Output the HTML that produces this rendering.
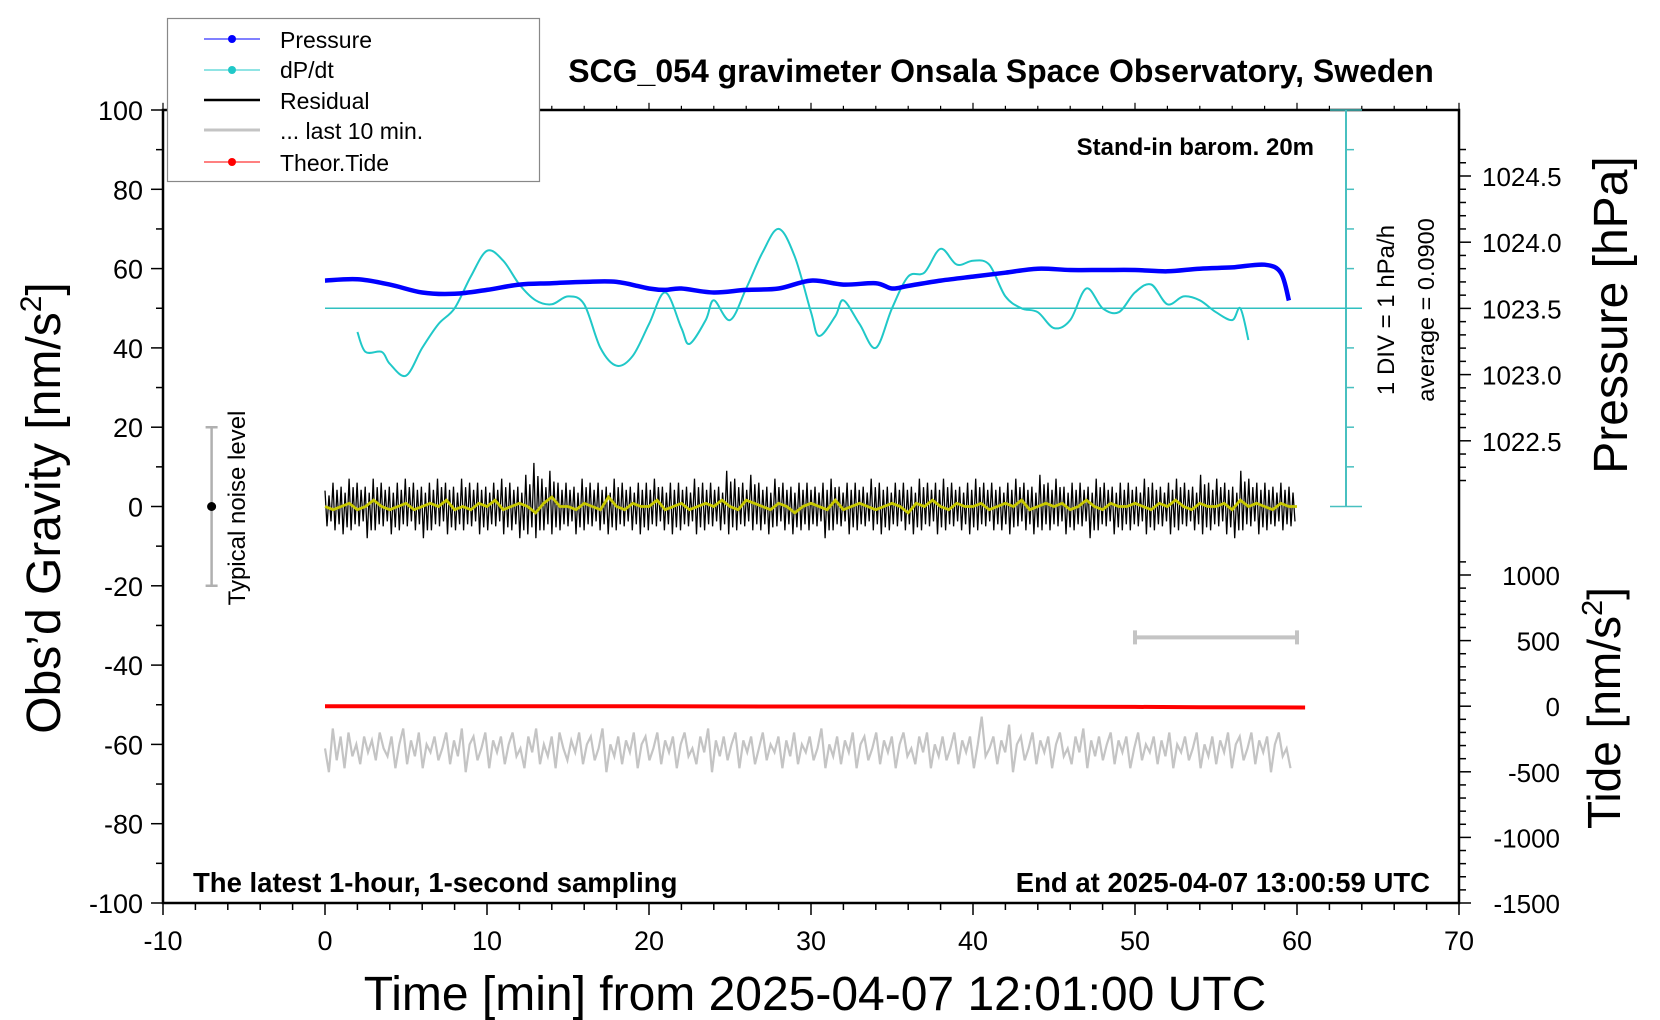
<!DOCTYPE html>
<html><head><meta charset="utf-8"><style>
html,body{margin:0;padding:0;background:#fff}
svg{display:block;font-family:"Liberation Sans",Arial,sans-serif}
</style></head><body>
<svg id="chart" width="1660" height="1020" viewBox="0 0 1660 1020" xmlns="http://www.w3.org/2000/svg">
<g id="axes"></g>
<g id="series"></g>
<g id="labels"></g>
</svg>
<script>
// ---- data ----
const xTicks = [-10,0,10,20,30,40,50,60,70];
const yTicks = [100,80,60,40,20,0,-20,-40,-60,-80,-100];
const pressureTicks = [1022.5,1023.0,1023.5,1024.0,1024.5];
const tideTicks = [1000,500,0,-500,-1000,-1500];
const pressureT = [0,2,4,6,8,10,12,14,16,18,20,21,22,24,26,28,30,32,34,35,36,38,40,42,44,46,48,50,52,54,56,58,59,59.5];
const pressureV = [1023.71,1023.72,1023.68,1023.62,1023.61,1023.64,1023.68,1023.69,1023.70,1023.70,1023.65,1023.64,1023.65,1023.62,1023.64,1023.65,1023.71,1023.68,1023.69,1023.65,1023.67,1023.71,1023.74,1023.77,1023.80,1023.79,1023.79,1023.79,1023.78,1023.80,1023.81,1023.83,1023.77,1023.56];
const dpdtT = [2,2.5,3.5,4,5,6,7,8,9,10,11,12,13,14,15,16,17,18,19,20,21,22,22.5,23.5,24,25,26,27,28,29,30,30.5,31.5,32,33,34,35,36,37,38,39,40,41,42,43,44,45,46,47,48,49,50,51,52,53,54,55,56,56.5,57];
const dpdtV = [44,39,39,36,33,40,46,50,58,64.5,62,56,52,51,53,51,40,35.5,38,46,54,45,41,47,52,47,55,64,70,63,49,43,48,52,46,40,50,58,59,65,61,62,61,53,50,49,45,47,55,50,49,54,56,51,53,52,49,47,50,42];
const residualHi = [4,6,5,7,6,5,7,6,5,6,7,6,5,6,7,6,5,7,6,6,5,6,7,6,5,8,11,7,9,6,6,5,7,6,6,5,7,6,5,6,6,7,5,6,6,5,7,6,6,5,9,7,6,8,6,5,7,6,5,6,6,5,6,7,5,6,6,5,7,6,5,6,6,5,7,6,6,7,6,5,6,7,6,6,5,6,7,6,5,8,6,7,5,6,6,5,7,6,5,6,6,5,7,6,5,6,7,6,5,8,6,7,6,5,9,7,6,6,5,6,5];
const residualLo = [-5,-6,-7,-6,-5,-8,-6,-5,-7,-6,-5,-6,-8,-6,-5,-7,-6,-6,-5,-7,-6,-5,-7,-6,-8,-7,-8,-6,-7,-6,-5,-7,-6,-5,-6,-7,-6,-5,-6,-7,-6,-5,-6,-7,-6,-5,-7,-6,-5,-6,-7,-6,-5,-6,-6,-7,-5,-6,-7,-6,-6,-5,-8,-6,-5,-7,-6,-5,-6,-7,-6,-5,-6,-7,-6,-5,-7,-6,-5,-6,-7,-6,-5,-6,-6,-7,-5,-6,-7,-6,-6,-5,-7,-6,-5,-8,-6,-5,-7,-6,-6,-5,-7,-6,-5,-7,-6,-5,-6,-7,-6,-5,-7,-8,-6,-5,-7,-6,-5,-6,-5];
const smoothV = [0,-1,0,1,-1,0,2,0,-1,0,1,-1,0,1,0,2,-1,0,-1,1,0,2,-1,0,1,0,-2,1,3,0,0,-1,1,0,-1,3,0,-1,1,0,0,2,-1,0,1,-1,0,1,0,2,0,-1,2,1,0,-1,1,0,-2,0,1,0,-1,2,-1,0,1,0,-1,0,1,0,-2,1,0,2,0,-1,1,0,0,1,-1,0,1,0,2,-1,0,1,0,1,-1,0,2,0,-1,1,0,0,1,0,-1,1,0,2,0,-1,1,0,0,1,-1,2,0,1,0,-1,1,0,0];
const grayV = [-61,-67,-56,-64,-58,-66,-57,-63,-60,-65,-58,-62,-59,-64,-57,-61,-63,-58,-66,-60,-56,-65,-59,-63,-57,-66,-60,-62,-58,-64,-61,-57,-65,-59,-63,-56,-67,-60,-58,-64,-61,-57,-66,-59,-62,-58,-65,-60,-57,-63,-61,-66,-58,-62,-56,-65,-60,-63,-58,-66,-57,-61,-64,-59,-62,-57,-65,-60,-58,-64,-61,-56,-67,-60,-63,-58,-65,-59,-62,-57,-66,-60,-58,-64,-61,-57,-65,-59,-62,-58,-66,-60,-57,-63,-61,-65,-58,-62,-56,-67,-59,-63,-58,-64,-60,-57,-66,-59,-62,-58,-65,-61,-57,-64,-60,-62,-58,-66,-59,-63,-57,-65,-60,-62,-58,-64,-61,-56,-66,-60,-63,-58,-65,-59,-62,-57,-66,-60,-58,-64,-61,-57,-65,-59,-62,-58,-66,-60,-57,-63,-61,-65,-58,-62,-57,-66,-60,-63,-58,-64,-61,-57,-65,-59,-62,-58,-66,-60,-53,-63,-61,-58,-65,-59,-62,-55,-67,-60,-58,-64,-61,-57,-65,-59,-62,-58,-66,-60,-57,-63,-61,-65,-58,-62,-56,-66,-59,-63,-58,-64,-60,-57,-65,-59,-62,-58,-66,-61,-57,-64,-60,-62,-58,-65,-59,-63,-57,-66,-60,-62,-58,-64,-61,-57,-66,-60,-63,-58,-65,-59,-62,-57,-66,-60,-58,-64,-61,-57,-65,-59,-62,-58,-67,-60,-57,-63,-61,-66];
const tideT = [0,10,20,30,40,50,54,60.5];
const tideV = [0,0,-1,-2,-3,-5,-8,-10];
const grayEnd = 59.6;
const residualEnd = 60;

// ---- scales ----
const PL=163, PR=1459, PT=110, PB=903;
const xS = t => PL + (t+10)/80*(PR-PL);
const yS = v => PT + (100-v)/200*(PB-PT);
const pS = p => 176 + (1024.5-p)*132.4;
const tideY = v => 903 - (v+1500)*0.1312;

const NS='http://www.w3.org/2000/svg';
function mk(tag, attrs, parent, text){
  const e=document.createElementNS(NS,tag);
  for(const k in attrs) e.setAttribute(k,attrs[k]);
  if(text!==undefined) e.textContent=text;
  parent.appendChild(e); return e;
}
const axes=document.getElementById('axes'), series=document.getElementById('series'), labels=document.getElementById('labels');

let el=mk('rect',{x:PL,y:PT,width:PR-PL,height:PB-PT,fill:'none',stroke:'#000','stroke-width':2.5},axes);



for(let t=-10;t<=70;t+=2){
  const x=xS(t), major=(t%10===0);
  const L=major?12:7;
  el=mk('line',{x1:x,y1:PB,x2:x,y2:PB+L,stroke:'#000','stroke-width':1.5},axes);
  
  
  el=mk('line',{x1:x,y1:PT,x2:x,y2:PT-L*0.6,stroke:'#000','stroke-width':1.2},axes);
  
  
}
xTicks.forEach(t=>{
  el=mk('text',{x:xS(t),y:950,'font-size':27,'text-anchor':'middle'},labels,String(t));
  
  
});
for(let v=-100;v<=100;v+=10){
  const y=yS(v), major=(v%20===0);
  el=mk('line',{x1:PL,y1:y,x2:PL-(major?12:7),y2:y,stroke:'#000','stroke-width':1.5},axes);
  
  
}
yTicks.forEach(v=>{
  el=mk('text',{x:143,y:yS(v)+10,'font-size':27,'text-anchor':'end'},labels,String(v));
  
  
});
for(let i=0;i<=25;i++){
  const p=1022.2+i*0.1, y=pS(p);
  if(y<PT||y>510) continue;
  const major=Math.abs((p*2)-Math.round(p*2))<1e-6;
  el=mk('line',{x1:PR,y1:y,x2:PR+(major?12:7),y2:y,stroke:'#000','stroke-width':1.5},axes);
  
  
}
pressureTicks.forEach(p=>{
  el=mk('text',{x:1482,y:pS(p)+10,'font-size':26},labels,p.toFixed(1));
  
  
});
for(let v=-1500;v<=1100;v+=100){
  const y=tideY(v); if(y<540) continue;
  const major=(v%500===0);
  el=mk('line',{x1:PR,y1:y,x2:PR+(major?12:7),y2:y,stroke:'#000','stroke-width':1.5},axes);
  
  
}
tideTicks.forEach(v=>{
  el=mk('text',{x:1560,y:tideY(v)+10,'font-size':26,'text-anchor':'end'},labels,String(v));
  
  
});
const cx=1346;
el=mk('line',{x1:cx,y1:yS(100),x2:cx,y2:yS(0),stroke:'#48c0c0','stroke-width':2},axes);


for(let v=0;v<=100;v+=10){
  const major=(v%50===0);
  el=mk('line',{x1:major?cx-16:cx,y1:yS(v),x2:cx+(major?16:8),y2:yS(v),stroke:'#48c0c0','stroke-width':1.5},axes);
  
  
}
el=mk('line',{x1:xS(0),y1:yS(50),x2:cx+16,y2:yS(50),stroke:'#30c0c0','stroke-width':1.5},series);



function poly(pts,attrs){
  return mk('polyline',Object.assign({points:pts.map(p=>p[0].toFixed(1)+','+p[1].toFixed(1)).join(' '),fill:'none'},attrs),series);
}
function smooth(pts,attrs){
  let d='M'+pts[0][0].toFixed(1)+','+pts[0][1].toFixed(1);
  for(let i=0;i<pts.length-1;i++){
    const p0=pts[Math.max(0,i-1)],p1=pts[i],p2=pts[i+1],p3=pts[Math.min(pts.length-1,i+2)];
    const c1=[p1[0]+(p2[0]-p0[0])/6,p1[1]+(p2[1]-p0[1])/6];
    const c2=[p2[0]-(p3[0]-p1[0])/6,p2[1]-(p3[1]-p1[1])/6];
    d+=`C${c1[0].toFixed(1)},${c1[1].toFixed(1)} ${c2[0].toFixed(1)},${c2[1].toFixed(1)} ${p2[0].toFixed(1)},${p2[1].toFixed(1)}`;
  }
  return mk('path',Object.assign({d:d,fill:'none'},attrs),series);
}
const gs=grayEnd/(grayV.length-1);
el=poly(grayV.map((v,i)=>[xS(i*gs),yS(v)]),{stroke:'#c4c4c4','stroke-width':2.2});


el=poly(tideT.map((t,i)=>[xS(t),tideY(tideV[i])]),{stroke:'#ff0000','stroke-width':4});


const resPts=[];
const n=Math.min(residualHi.length,residualLo.length);
const rs=residualEnd/n;
for(let i=0;i<n;i++){
  const t=i*rs;
  resPts.push([xS(t),yS(residualHi[i])]);
  resPts.push([xS(t+rs*0.25),yS(residualLo[i])]);
  resPts.push([xS(t+rs*0.5),yS(residualHi[i]*0.7)]);
  resPts.push([xS(t+rs*0.75),yS(residualLo[i]*0.75)]);
}
el=poly(resPts,{stroke:'#000','stroke-width':1.3});


const ss=residualEnd/(smoothV.length-1);
el=poly(smoothV.map((v,i)=>[xS(i*ss),yS(v*0.8)]),{stroke:'#c8c800','stroke-width':2.8});


el=smooth(dpdtT.map((t,i)=>[xS(t),yS(dpdtV[i])]),{stroke:'#20c8c8','stroke-width':2,'stroke-linejoin':'round'});


el=smooth(pressureT.map((t,i)=>[xS(t),pS(pressureV[i])]),{stroke:'#0000ff','stroke-width':4.5,'stroke-linejoin':'round'});



el=mk('path',{d:`M${xS(50)},${yS(-33)}H${xS(60)}M${xS(50)},${yS(-33)-7}V${yS(-33)+7}M${xS(60)},${yS(-33)-7}V${yS(-33)+7}`,stroke:'#c4c4c4','stroke-width':4,fill:'none'},series);


el=mk('path',{d:`M${xS(-7)},${yS(20)}V${yS(-20)}M${xS(-7)-6},${yS(20)}h12M${xS(-7)-6},${yS(-20)}h12`,stroke:'#b0b0b0','stroke-width':2.5,fill:'none'},series);


el=mk('circle',{cx:xS(-7),cy:yS(0),r:4.5,fill:'#000'},series);


</script>
<svg width="1660" height="1020" style="position:absolute;left:0;top:0" xmlns="http://www.w3.org/2000/svg" font-family="Liberation Sans, Arial, sans-serif">
<text x="245" y="508" font-size="24" transform="rotate(-90 245 508)" text-anchor="middle">Typical noise level</text>
<text x="1001" y="82" font-size="32" font-weight="bold" text-anchor="middle">SCG_054 gravimeter Onsala Space Observatory, Sweden</text>
<text x="1314" y="155" font-size="24" font-weight="bold" text-anchor="end">Stand-in barom. 20m</text>
<text x="193" y="892" font-size="27.5" font-weight="bold">The latest 1-hour, 1-second sampling</text>
<text x="1430" y="892" font-size="27.5" font-weight="bold" text-anchor="end">End at 2025-04-07 13:00:59 UTC</text>
<text x="1394" y="310" font-size="24" transform="rotate(-90 1394 310)" text-anchor="middle">1 DIV = 1 hPa/h</text>
<text x="1434" y="310" font-size="23.5" transform="rotate(-90 1434 310)" text-anchor="middle">average = 0.0900</text>
<text x="60" y="508" font-size="48" transform="rotate(-90 60 508)" text-anchor="middle">Obs’d Gravity [nm/s<tspan font-size="30" dy="-19">2</tspan><tspan dy="19">]</tspan></text>
<text x="1627" y="315" font-size="48" transform="rotate(-90 1627 315)" text-anchor="middle">Pressure [hPa]</text>
<text x="1620" y="708" font-size="46" transform="rotate(-90 1620 708)" text-anchor="middle">Tide [nm/s<tspan font-size="29" dy="-18">2</tspan><tspan dy="18">]</tspan></text>
<text x="815" y="1010" font-size="48" text-anchor="middle">Time [min] from 2025-04-07 12:01:00 UTC</text>
<g>
<rect x="167.5" y="18.5" width="372" height="163" fill="#fff" stroke="#888" stroke-width="1.2"/>
<g><line x1="204" y1="39" x2="260" y2="39" stroke="#0000ff" stroke-width="1"/><circle cx="232" cy="39" r="4" fill="#0000ff"/><text x="280" y="48" font-size="23">Pressure</text></g>
<g><line x1="204" y1="70" x2="260" y2="70" stroke="#20c8c8" stroke-width="1"/><circle cx="232" cy="70" r="4" fill="#20c8c8"/><text x="280" y="78" font-size="23">dP/dt</text></g>
<g><line x1="204" y1="100" x2="260" y2="100" stroke="#000" stroke-width="2.5"/><text x="280" y="109" font-size="23">Residual</text></g>
<g><line x1="204" y1="130" x2="260" y2="130" stroke="#c4c4c4" stroke-width="3"/><text x="280" y="139" font-size="23">... last 10 min.</text></g>
<g><line x1="204" y1="162" x2="260" y2="162" stroke="#ff0000" stroke-width="1"/><circle cx="232" cy="162" r="4" fill="#ff0000"/><text x="280" y="171" font-size="23">Theor.Tide</text></g>
</g>
</svg>
</body></html>
